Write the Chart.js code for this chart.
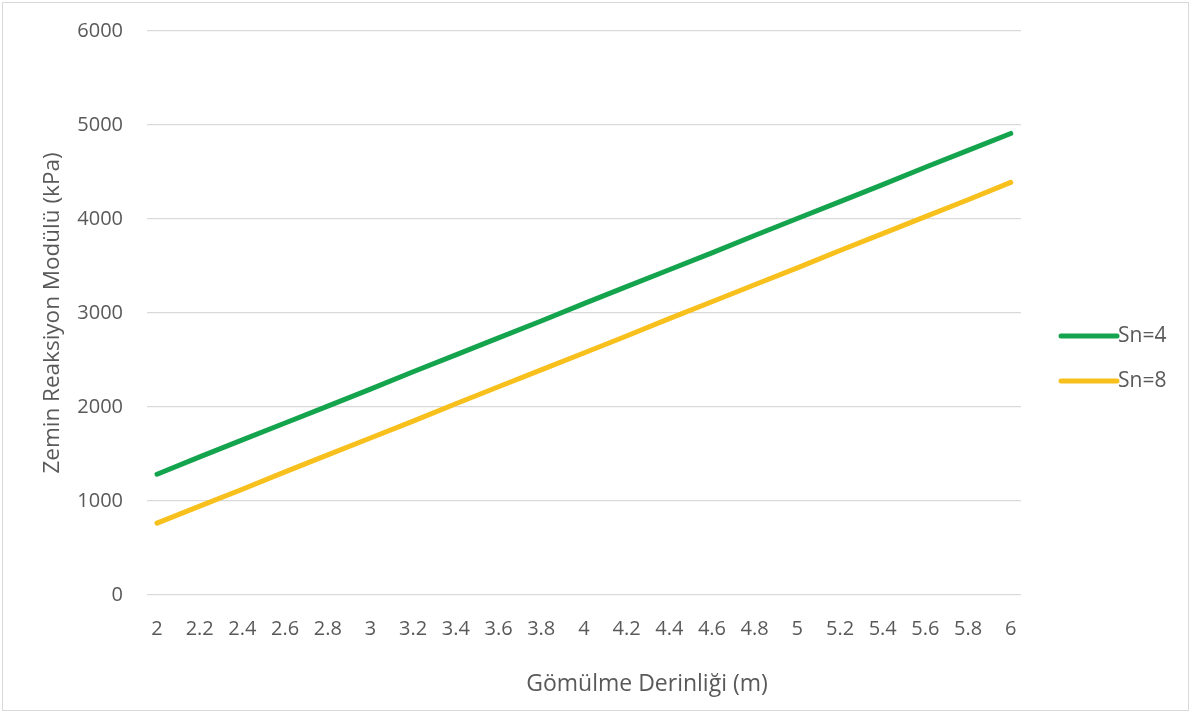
<!DOCTYPE html>
<html>
<head>
<meta charset="utf-8">
<script src="https://cdn.jsdelivr.net/npm/chart.js@4.4.1/dist/chart.umd.min.js"></script>
<style>
  html, body { margin: 0; padding: 0; background: #ffffff; }
  #wrap { width: 1194px; height: 713px; position: relative; }
</style>
</head>
<body>
<div id="wrap"><canvas id="chart" width="1194" height="713"></canvas></div>
<script>
// Gömülme derinliği (m)
const depths = [2, 2.2, 2.4, 2.6, 2.8, 3, 3.2, 3.4, 3.6, 3.8, 4, 4.2, 4.4, 4.6, 4.8, 5, 5.2, 5.4, 5.6, 5.8, 6];
// Zemin reaksiyon modülü (kPa)
const sn4 = [1285, 1470, 1650, 1830, 2010, 2190, 2375, 2555, 2735, 2915, 3100, 3280, 3460, 3640, 3825, 4005, 4185, 4365, 4550, 4730, 4910];
const sn8 = [765, 945, 1125, 1310, 1490, 1670, 1850, 2035, 2215, 2395, 2575, 2755, 2940, 3120, 3300, 3480, 3665, 3845, 4025, 4205, 4390];
const seriesNames = ['Sn=4', 'Sn=8'];
const yTicks = [0, 1000, 2000, 3000, 4000, 5000, 6000];
const xTitle = 'Gömülme Derinliği (m)';
const yTitle = 'Zemin Reaksiyon Modülü (kPa)';

const FONT = '"Open Sans", Lato, sans-serif';
const TEXT = '#595959';

const toPoints = (vals) => vals.map((v, i) => ({ x: depths[i], y: v }));

// outer frame, x-axis title (sits right of the plot centre) and the right-side legend
const decorations = {
  id: 'decorations',
  afterDraw(chart) {
    const ctx = chart.ctx;
    ctx.save();
    ctx.strokeStyle = '#d9d9d9';
    ctx.lineWidth = 1;
    ctx.strokeRect(2.5, 2.5, 1186, 708);

    ctx.fillStyle = TEXT;
    ctx.font = '23px ' + FONT;
    ctx.textAlign = 'center';
    ctx.textBaseline = 'middle';
    ctx.fillText(xTitle, 647, 684);

    const x0 = 1061, x1 = 1117;
    const ys = [336, 381];
    chart.data.datasets.forEach((ds, i) => {
      const y = ys[i];
      ctx.strokeStyle = ds.borderColor;
      ctx.lineWidth = 5;
      ctx.lineCap = 'round';
      ctx.beginPath();
      ctx.moveTo(x0, y);
      ctx.lineTo(x1, y);
      ctx.stroke();
      ctx.fillStyle = TEXT;
      ctx.font = '21px ' + FONT;
      ctx.textBaseline = 'middle';
      ctx.textAlign = 'left';
      ctx.fillText(ds.label, x1 + 1, y);
    });
    ctx.restore();
  }
};

new Chart(document.getElementById('chart'), {
  type: 'line',
  data: {
    datasets: [
      { label: seriesNames[0], data: toPoints(sn4), borderColor: '#14a44d', borderWidth: 5, pointRadius: 0, borderCapStyle: 'round', tension: 0 },
      { label: seriesNames[1], data: toPoints(sn8), borderColor: '#f7c01c', borderWidth: 5, pointRadius: 0, borderCapStyle: 'round', tension: 0 }
    ]
  },
  options: {
    responsive: false,
    animation: false,
    layout: { padding: { left: 30, right: 173, top: 31, bottom: 10 } },
    plugins: { legend: { display: false }, tooltip: { enabled: false } },
    scales: {
      x: {
        type: 'linear',
        min: 1.953,
        max: 6.048,
        afterBuildTicks(scale) { scale.ticks = depths.map(v => ({ value: v })); },
        afterFit(scale) { scale.height = 713 - 10 - 595; },
        grid: { display: false },
        border: { display: false },
        ticks: {
          autoSkip: false,
          maxRotation: 0,
          padding: 14,
          color: TEXT,
          font: { family: FONT, size: 20 },
          callback: (v) => String(Number(v.toFixed(1)))
        },
        title: { display: false }
      },
      y: {
        min: 0,
        max: 6000,
        afterBuildTicks(scale) { scale.ticks = yTicks.map(v => ({ value: v })); },
        afterFit(scale) {
          scale.width = 147 - 30;
          scale.paddingTop = 0;
          scale.paddingBottom = 0;
        },
        grid: { color: '#d9d9d9', lineWidth: 1.3, drawTicks: false },
        border: { display: false },
        ticks: {
          padding: 24,
          color: TEXT,
          font: { family: FONT, size: 20 },
          callback: (v) => String(v)
        },
        title: {
          display: true,
          text: yTitle,
          color: TEXT,
          font: { family: FONT, size: 22.5 },
          padding: { top: 9, bottom: 0 }
        }
      }
    }
  },
  plugins: [decorations]
});
</script>
</body>
</html>
